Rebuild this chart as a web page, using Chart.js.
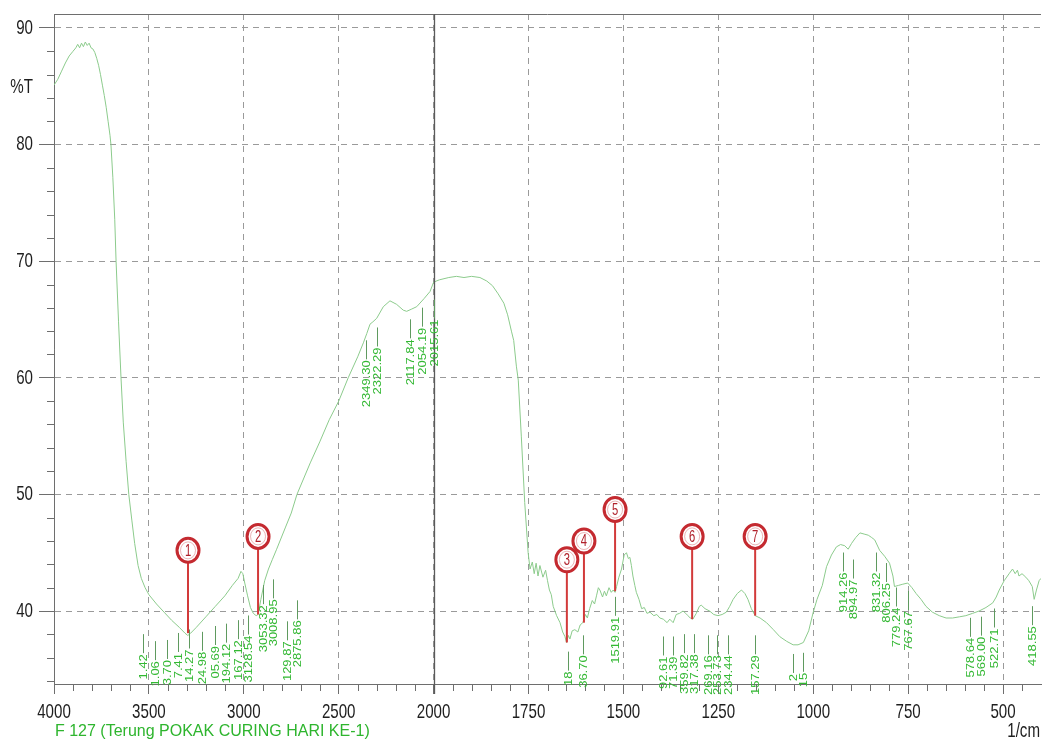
<!DOCTYPE html>
<html>
<head>
<meta charset="utf-8">
<title>FTIR F 127</title>
<script src="https://cdn.jsdelivr.net/npm/chart.js@4/dist/chart.umd.min.js"></script>
<style>
  html, body { margin: 0; padding: 0; background: #fff; }
  canvas { display: block; }
</style>
</head>
<body>
<canvas id="ftirChart" width="1042" height="740"></canvas>
<script>
// spectrum: wavenumber (1/cm) and %T
const wavenumbers = [
  4000, 3980, 3960, 3940, 3920, 3900, 3885, 3875, 3865, 3855, 3845, 3835, 3825, 3815, 3805, 3795,
  3785, 3775, 3765, 3755, 3745, 3735, 3725, 3715, 3705, 3700, 3690, 3680, 3673, 3660, 3647, 3635,
  3620, 3606, 3590, 3575, 3557, 3540, 3520, 3500, 3460, 3420, 3380, 3340, 3310, 3295, 3280, 3250,
  3200, 3150, 3100, 3060, 3030, 3015, 3005, 2995, 2980, 2965, 2950, 2935, 2925, 2910, 2890, 2870,
  2850, 2827, 2780, 2750, 2720, 2650, 2600, 2550, 2500, 2450, 2400, 2370, 2352, 2335, 2320, 2300,
  2265, 2230, 2195, 2160, 2142, 2115, 2089, 2050, 2019, 2000, 1985, 1960, 1940, 1920, 1900, 1878,
  1860, 1845, 1830, 1815, 1805, 1795, 1789, 1782, 1777, 1769, 1760, 1751, 1746, 1740, 1735, 1730,
  1725, 1720, 1712, 1705, 1700, 1695, 1690, 1685, 1676, 1667, 1660, 1654, 1650, 1645, 1641, 1635,
  1628, 1620, 1614, 1607, 1600, 1595, 1589, 1582, 1576, 1571, 1566, 1562, 1555, 1550, 1545, 1538,
  1532, 1527, 1522, 1518, 1512, 1505, 1498, 1492, 1487, 1483, 1479, 1475, 1470, 1466, 1459, 1452,
  1445, 1438, 1430, 1420, 1412, 1404, 1395, 1385, 1378, 1369, 1361, 1352, 1343, 1336, 1330, 1324,
  1317, 1308, 1300, 1295, 1285, 1273, 1262, 1251, 1240, 1229, 1220, 1211, 1200, 1189, 1180, 1172,
  1163, 1153, 1140, 1123, 1105, 1088, 1070, 1053, 1040, 1026, 1012, 1000, 990, 976, 965, 952,
  939, 928, 917, 908, 899, 888, 877, 866, 855, 846, 838, 825, 812, 799, 790, 786,
  775, 764, 751, 740, 729, 716, 703, 686, 668, 650, 633, 615, 598, 580, 563, 545,
  527, 518, 510, 497, 484, 475, 468, 462, 458, 450, 440, 432, 423, 418, 412, 405, 400
];
const transmittance = [
  85.1, 85.6, 86.3, 87.0, 87.6, 88.0, 88.3, 88.6, 88.3, 88.7, 88.4, 88.8, 88.5, 88.7, 88.3, 88.2,
  87.9, 87.4, 86.8, 86.0, 85.1, 84.2, 83.2, 82.0, 80.8, 80.0, 77.2, 73.6, 70.0, 64.8, 60.0, 56.2,
  52.8, 50.0, 47.8, 45.8, 43.9, 42.8, 42.0, 41.4, 40.6, 39.9, 39.2, 38.6, 38.1, 37.9, 38.1, 38.6,
  39.5, 40.4, 41.3, 42.2, 42.8, 43.4, 43.2, 42.4, 41.3, 40.3, 39.8, 39.6, 39.7, 41.0, 42.6, 43.6,
  44.4, 45.3, 47.2, 48.4, 50.0, 52.7, 54.5, 56.4, 58.0, 60.0, 61.8, 63.0, 63.8, 64.6, 64.8, 65.1,
  66.1, 66.6, 66.3, 65.8, 65.7, 65.9, 66.1, 66.8, 67.4, 68.2, 68.4, 68.6, 68.7, 68.6, 68.7, 68.6,
  68.3, 67.9, 67.2, 66.4, 65.4, 64.0, 63.2, 61.0, 59.8, 55.0, 49.3, 45.0, 43.6, 44.2, 43.2, 44.1,
  43.0, 43.9, 42.9, 43.5, 42.6, 41.8, 41.4, 40.4, 39.6, 39.0, 38.2, 37.8, 37.3, 37.9, 37.6, 38.3,
  38.4, 38.2, 38.8, 39.0, 39.7, 39.4, 40.2, 40.9, 40.6, 41.3, 42.0, 41.8, 41.2, 41.7, 41.3, 42.0,
  41.6, 41.8, 41.6, 42.1, 42.9, 43.6, 44.8, 45.0, 44.5, 44.6, 43.9, 43.0, 42.2, 41.6, 41.0, 40.2,
  40.3, 39.8, 39.9, 39.6, 39.7, 39.4, 39.3, 39.0, 39.3, 39.0, 39.7, 39.8, 40.0, 39.8, 39.6, 39.4,
  39.3, 39.8, 40.4, 40.5, 40.2, 40.0, 39.7, 39.6, 39.7, 39.9, 40.4, 41.0, 41.5, 41.8, 41.5, 41.0,
  40.2, 39.6, 39.4, 39.0, 38.4, 37.8, 37.4, 37.1, 37.1, 37.3, 38.3, 39.9, 41.0, 42.2, 43.8, 44.8,
  45.5, 45.7, 45.6, 45.3, 45.8, 46.3, 46.7, 46.6, 46.5, 46.3, 46.1, 45.2, 44.7, 44.1, 43.0, 42.1,
  42.2, 42.3, 42.4, 42.0, 41.5, 41.0, 40.4, 39.9, 39.6, 39.4, 39.4, 39.5, 39.6, 39.8, 40.0, 40.3,
  40.7, 41.2, 41.8, 42.6, 43.2, 43.6, 43.2, 43.5, 43.0, 43.2, 42.9, 42.6, 42.1, 41.0, 41.8, 42.6, 42.8
];

const xTickLabels = [4000, 3500, 3000, 2500, 2000, 1750, 1500, 1250, 1000, 750, 500];
const yTickLabels = [40, 50, 60, 70, 80, 90];

// peak picks printed under the trace (text as it shows, position, top of the text in %T)
const peakText = ['1.42', '1.06', '3.70', '7.41', '14.27', '24.98', '05.69', '194.12', '167.12', '3128.54',
  '3053.32', '3008.95', '129.87', '2875.86', '2349.30', '2322.29', '2117.84', '2054.19', '2015.61',
  '18', '36.70', '1519.91', '92.61', '71.39', '359.82', '317.38', '269.16', '253.73', '234.44', '157.29',
  '2', '15', '914.26', '894.97', '831.32', '806.25', '779.24', '767.67', '578.64', '569.00', '522.71', '418.55'];
const peakWave = [3531, 3468, 3405, 3347, 3289, 3220, 3152, 3094, 3031, 2978,
  2899, 2846, 2772, 2720, 2356, 2298, 2124, 2061, 1998,
  1646, 1607, 1522, 1395, 1369, 1340, 1314, 1277, 1254, 1225, 1154,
  1054, 1028, 921, 895, 834, 808, 781, 751, 588, 559, 525, 425];
const peakTop = [36.3, 35.7, 35.8, 36.4, 36.7, 36.5, 37.0, 37.2, 37.5, 37.9,
  40.5, 41.0, 37.4, 39.2, 61.5, 62.6, 63.3, 64.3, 65.0,
  34.8, 36.2, 39.5, 36.1, 36.1, 36.3, 36.3, 36.2, 36.2, 36.2, 36.2,
  34.6, 34.7, 43.3, 42.7, 43.3, 42.4, 40.3, 40.0, 37.7, 37.8, 38.5, 38.7];

// numbered red markers
const markerNo = ['1', '2', '3', '4', '5', '6', '7'];
const markerWave = [3294, 2925, 1649, 1604, 1522, 1319, 1153];
const markerHead = [45.2, 46.4, 44.4, 46.0, 48.7, 46.4, 46.4];
const markerTip = [38.1, 39.7, 37.3, 39.0, 41.7, 39.3, 39.6];

// the x axis is squeezed 2:1 above 2000 1/cm, like the instrument printout
const X_LOW = 400, X_HIGH = 4000, X_BREAK = 2000;
function waveToPos(w) {
  return w >= X_BREAK ? (X_HIGH - w) / 2 : (X_HIGH - X_BREAK) / 2 + (X_BREAK - w);
}
function posToWave(p) {
  const brk = (X_HIGH - X_BREAK) / 2;
  return p <= brk ? X_HIGH - 2 * p : X_BREAK - (p - brk);
}
const POS_SPAN = waveToPos(X_LOW);

class WaveScale extends Chart.LinearScale {
  getPixelForValue(value) {
    if (value === null || value === undefined || isNaN(value)) return NaN;
    return this.getPixelForDecimal(waveToPos(value) / POS_SPAN);
  }
  getValueForPixel(pixel) {
    return posToWave(this.getDecimalForPixel(pixel) * POS_SPAN);
  }
}
WaveScale.id = 'wavenumber';
Chart.register(WaveScale);

const AXIS_FONT = '21px "Liberation Sans", Arial, sans-serif';
const SQUEEZE = 0.72;

function squeezeText(ctx, text, px, py, align, sx) {
  ctx.save();
  ctx.translate(px, py);
  ctx.scale(sx, 1);
  ctx.textAlign = align;
  ctx.fillText(text, 0, 0);
  ctx.restore();
}

const ftirDecor = {
  id: 'ftirDecor',
  afterDraw(chart) {
    const { ctx, chartArea: area, scales: { x, y } } = chart;
    ctx.save();

    // top frame and the solid line at the 2000 break
    ctx.strokeStyle = '#6e6e6e';
    ctx.lineWidth = 1;
    ctx.beginPath();
    ctx.moveTo(area.left, area.top + 0.5);
    ctx.lineTo(area.right, area.top + 0.5);
    ctx.stroke();
    const xb = Math.round(x.getPixelForValue(X_BREAK)) + 0.5;
    ctx.strokeStyle = '#5a5a5a';
    ctx.lineWidth = 1.3;
    ctx.beginPath();
    ctx.moveTo(xb, area.top);
    ctx.lineTo(xb, area.bottom + 10);
    ctx.stroke();

    // minor ticks
    ctx.strokeStyle = '#6e6e6e';
    ctx.lineWidth = 1;
    ctx.beginPath();
    for (let w = 3900; w > X_BREAK; w -= 100) {
      if (xTickLabels.includes(w)) continue;
      const px = Math.round(x.getPixelForValue(w)) + 0.5;
      ctx.moveTo(px, area.bottom); ctx.lineTo(px, area.bottom + 7);
    }
    for (let w = 1950; w > X_LOW; w -= 50) {
      if (xTickLabels.includes(w)) continue;
      const px = Math.round(x.getPixelForValue(w)) + 0.5;
      ctx.moveTo(px, area.bottom); ctx.lineTo(px, area.bottom + 7);
    }
    for (let v = 34; v < 90; v += 2) {
      if (v % 10 === 0) continue;
      const py = Math.round(y.getPixelForValue(v)) + 0.5;
      ctx.moveTo(area.left - 7, py); ctx.lineTo(area.left, py);
    }
    ctx.stroke();

    // axis text
    ctx.fillStyle = '#1e1e1e';
    ctx.font = AXIS_FONT;
    ctx.textBaseline = 'alphabetic';
    xTickLabels.forEach(w => squeezeText(ctx, String(w), x.getPixelForValue(w), 718, 'center', SQUEEZE));
    squeezeText(ctx, '1/cm', 1040, 737, 'right', SQUEEZE);
    ctx.textBaseline = 'middle';
    yTickLabels.forEach(v => squeezeText(ctx, String(v), 33, y.getPixelForValue(v), 'right', SQUEEZE));
    squeezeText(ctx, '%T', 33, 87, 'right', SQUEEZE);

    ctx.fillStyle = '#2eb52e';
    ctx.font = '16px "Liberation Sans", Arial, sans-serif';
    ctx.textBaseline = 'alphabetic';
    ctx.textAlign = 'left';
    ctx.fillText('F 127 (Terung POKAK CURING HARI KE-1)', 55, 736);

    // peak labels with their leaders
    ctx.font = '13px "Liberation Sans", Arial, sans-serif';
    peakText.forEach((t, i) => {
      const px = Math.round(x.getPixelForValue(peakWave[i]));
      const top = y.getPixelForValue(peakTop[i]);
      ctx.strokeStyle = '#5f9a5f';
      ctx.lineWidth = 1;
      ctx.beginPath();
      ctx.moveTo(px + 0.5, top - 1);
      ctx.lineTo(px + 0.5, top - 20);
      ctx.stroke();
      ctx.save();
      ctx.translate(px + 0.5, top);
      ctx.rotate(-Math.PI / 2);
      ctx.scale(1, 0.9);
      ctx.fillStyle = '#33b833';
      ctx.textAlign = 'right';
      ctx.textBaseline = 'middle';
      ctx.fillText(t, 0, 0);
      ctx.restore();
    });

    // numbered markers
    markerNo.forEach((n, i) => {
      const px = x.getPixelForValue(markerWave[i]);
      const cy = y.getPixelForValue(markerHead[i]);
      const tip = y.getPixelForValue(markerTip[i]);
      ctx.strokeStyle = '#d23a3a';
      ctx.lineWidth = 2;
      ctx.beginPath();
      ctx.moveTo(px, cy + 12);
      ctx.lineTo(px, tip);
      ctx.stroke();
      ctx.beginPath();
      ctx.ellipse(px, cy, 11, 12, 0, 0, Math.PI * 2);
      ctx.fillStyle = '#fff';
      ctx.fill();
      ctx.strokeStyle = '#c42a30';
      ctx.lineWidth = 3;
      ctx.stroke();
      ctx.beginPath();
      ctx.ellipse(px, cy, 7.5, 8.5, 0, 0, Math.PI * 2);
      ctx.strokeStyle = 'rgba(196, 42, 48, 0.35)';
      ctx.lineWidth = 1;
      ctx.stroke();
      ctx.fillStyle = '#b0202a';
      ctx.font = '16px "Liberation Sans", Arial, sans-serif';
      ctx.textBaseline = 'middle';
      squeezeText(ctx, n, px, cy + 1, 'center', 0.7);
    });

    ctx.restore();
  }
};

const spectrum = wavenumbers.map((w, i) => ({ x: w, y: transmittance[i] }));

new Chart(document.getElementById('ftirChart'), {
  type: 'line',
  data: {
    datasets: [{
      label: 'F 127',
      data: spectrum,
      borderColor: '#8ccb8c',
      borderWidth: 1,
      pointRadius: 0,
      tension: 0,
      fill: false
    }]
  },
  options: {
    responsive: false,
    animation: false,
    devicePixelRatio: 1,
    layout: { padding: { top: 14, right: 1, left: 0, bottom: 0 } },
    plugins: { legend: { display: false }, tooltip: { enabled: false } },
    scales: {
      x: {
        type: 'wavenumber',
        min: X_LOW,
        max: X_HIGH,
        afterBuildTicks: s => { s.ticks = xTickLabels.map(v => ({ value: v })); },
        afterFit: s => { s.height = 56; },
        ticks: { display: false },
        grid: { color: '#9a9a9a', lineWidth: 1, tickLength: 10, tickColor: '#6e6e6e' },
        border: { display: true, color: '#6e6e6e', width: 1, dash: [6, 5] }
      },
      y: {
        type: 'linear',
        min: 33.74,
        max: 91.2,
        afterBuildTicks: s => { s.ticks = yTickLabels.map(v => ({ value: v })); },
        afterFit: s => { s.width = 54; },
        ticks: { display: false },
        grid: { color: '#9a9a9a', lineWidth: 1, tickLength: 15, tickColor: '#6e6e6e' },
        border: { display: true, color: '#6e6e6e', width: 1, dash: [6, 5] }
      }
    }
  },
  plugins: [ftirDecor]
});
</script>
</body>
</html>
